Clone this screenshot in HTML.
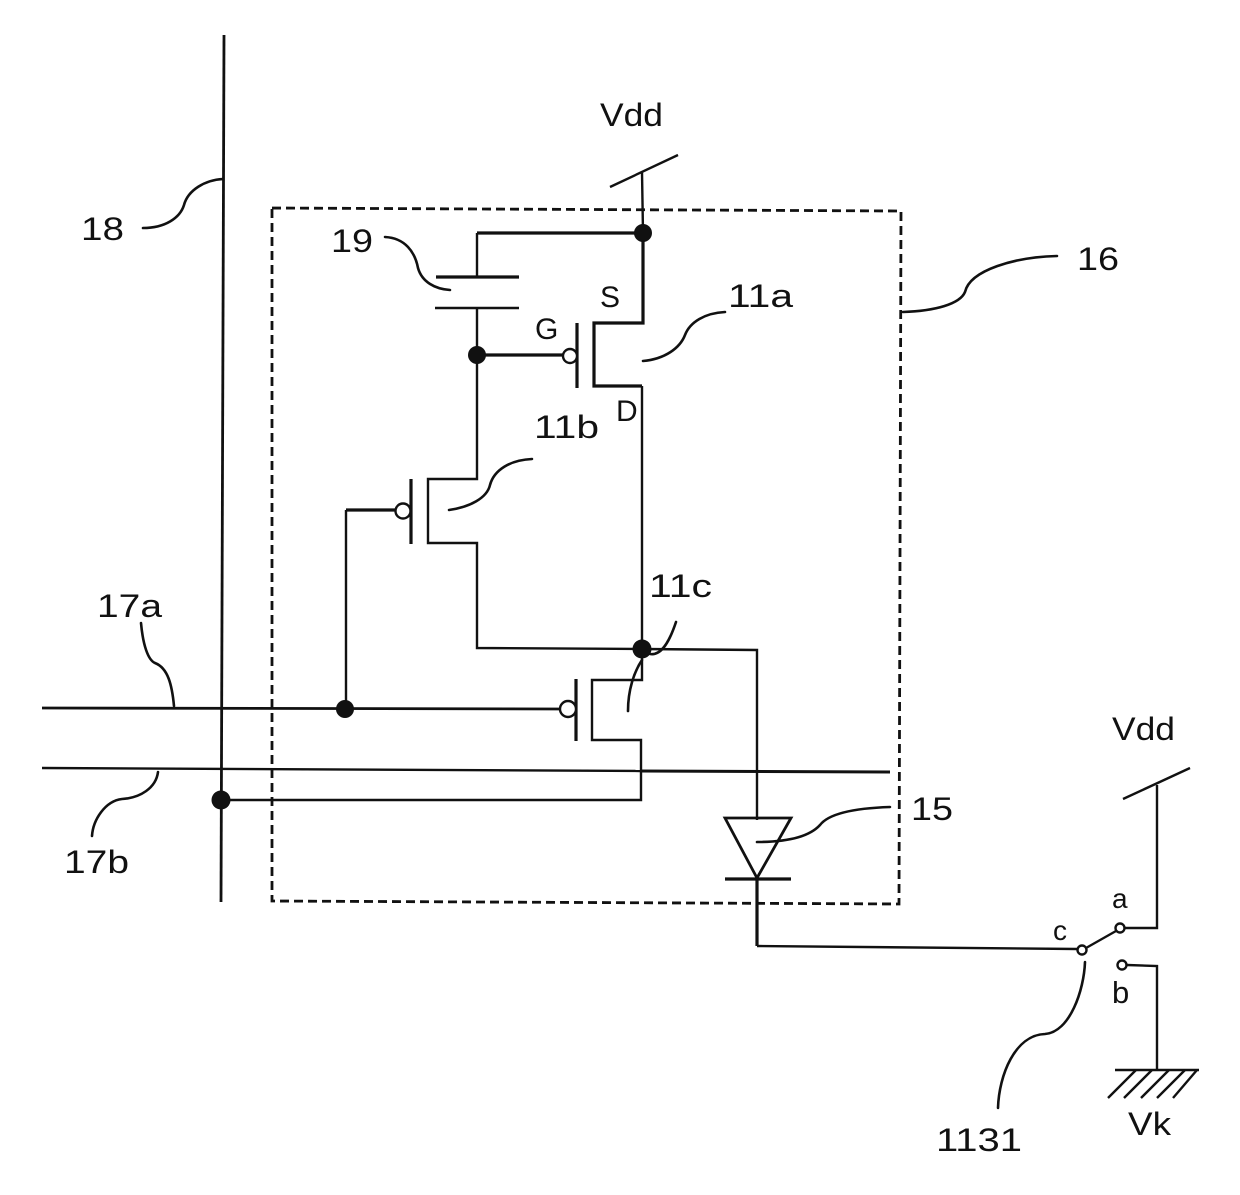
<!DOCTYPE html>
<html>
<head>
<meta charset="utf-8">
<style>
html,body{margin:0;padding:0;background:#fff;width:1240px;height:1195px;overflow:hidden}
svg{display:block}
text{font-family:"Liberation Sans",sans-serif;fill:#111;font-size:32px}
.l{fill:none;stroke:#111;stroke-width:2.4;stroke-linejoin:miter}
.t{fill:none;stroke:#111;stroke-width:3.2}
.c{fill:none;stroke:#111;stroke-width:2.6;stroke-linecap:round}
.o{fill:#fff;stroke:#111;stroke-width:2.4}
</style>
</head>
<body>
<svg width="1240" height="1195" viewBox="0 0 1240 1195" xmlns="http://www.w3.org/2000/svg">
<rect width="1240" height="1195" fill="#fff"/>
<!-- dashed module box -->
<path d="M272 208 L901 211 L899 904 L272 901 Z" fill="none" stroke="#111" stroke-width="2.8" stroke-dasharray="9 5"/>

<!-- bus lines -->
<path class="l" d="M224 35 L221 902" style="stroke-width:2.8"/>
<path class="l" d="M42 708 L562 709" style="stroke-width:2.8"/>
<path class="l" d="M42 768 L640 771"/>
<path class="l" d="M640 771 L890 772" style="stroke-width:3"/>

<!-- Vdd top and 11a -->
<path class="l" d="M610 187 L678 155"/>
<path class="l" d="M642 172 L643 233"/>
<path class="t" d="M643 233 L643 323 L594 323 L594 386 L642 386"/>
<path class="l" d="M642 386 L642 648"/>
<path class="t" d="M477 233 L643 233"/>
<!-- capacitor -->
<path class="t" d="M436 277 L519 277"/>
<path class="l" d="M435 308 L519 308"/>
<path class="l" d="M477 233 L477 277"/>
<path class="l" d="M477 308 L477 479 L428 479 L428 543 L477 543 L477 648 L642 649 L757 650 L757 820"/>
<path class="t" d="M477 355 L563 355"/>
<path class="t" d="M577 323 L577 388"/>
<circle class="o" cx="570" cy="356" r="7"/>

<!-- 11b -->
<path class="t" d="M411 479 L411 544"/>
<path class="l" d="M346 708 L346 510"/>
<path class="t" d="M346 510 L396 510"/>
<circle class="o" cx="403" cy="511" r="7.5"/>

<!-- 11c -->
<path class="t" d="M576 679 L576 741"/>
<path class="l" d="M642 649 L642 680 L592 680 L592 740 L641 740 L641 800 L221 800"/>
<circle class="o" cx="568" cy="709" r="8"/>

<!-- diode -->
<path class="l" d="M725 818 L791 818 L757 878 Z" style="stroke-width:2.8"/>
<path class="t" d="M725 879 L791 879"/>
<path class="t" d="M757 879 L757 946"/>
<path class="l" d="M757 946 L1077 949"/>

<!-- switch -->
<path class="l" d="M1086 948 L1116 931"/>
<path class="l" d="M1125 928 L1157 928 L1157 785"/>
<path class="l" d="M1123 799 L1190 768"/>
<path class="l" d="M1127 965 L1157 966 L1157 1070"/>
<path class="l" d="M1115 1070 L1199 1070"/>
<path class="l" d="M1136 1070 L1108 1098 M1152 1070 L1124 1098 M1169 1070 L1141 1098 M1185 1070 L1157 1098 M1197 1070 L1173 1098"/>
<circle class="o" cx="1082" cy="950" r="4.5"/>
<circle class="o" cx="1120" cy="928" r="4.5"/>
<circle class="o" cx="1122" cy="965" r="4.5"/>

<!-- nodes -->
<circle cx="643" cy="233" r="9" fill="#111"/>
<circle cx="477" cy="355" r="9" fill="#111"/>
<circle cx="642" cy="649" r="9.5" fill="#111"/>
<circle cx="345" cy="709" r="9" fill="#111"/>
<circle cx="221" cy="800" r="9.5" fill="#111"/>

<!-- leaders -->
<path class="c" d="M143 228 C165 228 180 218 184 205 C188 190 205 180 223 179"/>
<path class="c" d="M385 237 C405 238 415 252 418 268 C422 282 435 289 450 290"/>
<path class="c" d="M903 312 C935 311 960 304 965 292 C970 270 1015 257 1057 256"/>
<path class="c" d="M643 361 C665 359 680 348 685 335 C690 322 705 313 725 312"/>
<path class="c" d="M449 510 C470 507 487 498 490 485 C494 470 510 460 532 459"/>
<path class="c" d="M628 711 C628 690 634 672 642 660"/>
<path class="c" d="M650 654 C662 656 670 640 676 622"/>
<path class="c" d="M757 842 C790 842 810 836 820 825 C830 812 860 808 890 807"/>
<path class="c" d="M141 623 C143 645 148 660 155 663 C168 668 172 685 174 706"/>
<path class="c" d="M158 772 C156 788 140 798 122 799 C105 801 93 820 92 836"/>
<path class="c" d="M1085 962 C1084 990 1070 1032 1045 1034 C1015 1035 999 1075 998 1108"/>

<!-- labels -->
<text x="600" y="126" textLength="63" lengthAdjust="spacingAndGlyphs">Vdd</text>
<text x="1112" y="740" textLength="63" lengthAdjust="spacingAndGlyphs">Vdd</text>
<text x="81" y="240" textLength="43" lengthAdjust="spacingAndGlyphs">18</text>
<text x="331" y="252" textLength="42" lengthAdjust="spacingAndGlyphs">19</text>
<text x="1077" y="270" textLength="42" lengthAdjust="spacingAndGlyphs">16</text>
<text x="728" y="307" textLength="65" lengthAdjust="spacingAndGlyphs">11a</text>
<text x="600" y="307" style="font-size:30px">S</text>
<text x="535" y="339" style="font-size:30px">G</text>
<text x="616" y="421" style="font-size:30px">D</text>
<text x="534" y="438" textLength="65" lengthAdjust="spacingAndGlyphs">11b</text>
<text x="649" y="597" textLength="63" lengthAdjust="spacingAndGlyphs">11c</text>
<text x="97" y="617" textLength="65" lengthAdjust="spacingAndGlyphs">17a</text>
<text x="64" y="873" textLength="65" lengthAdjust="spacingAndGlyphs">17b</text>
<text x="911" y="820" textLength="42" lengthAdjust="spacingAndGlyphs">15</text>
<text x="1112" y="908" style="font-size:28px">a</text>
<text x="1053" y="940" style="font-size:28px">c</text>
<text x="1112" y="1003" style="font-size:31px">b</text>
<text x="936" y="1151" textLength="86" lengthAdjust="spacingAndGlyphs">1131</text>
<text x="1128" y="1135" textLength="43" lengthAdjust="spacingAndGlyphs">Vk</text>
</svg>
</body>
</html>
